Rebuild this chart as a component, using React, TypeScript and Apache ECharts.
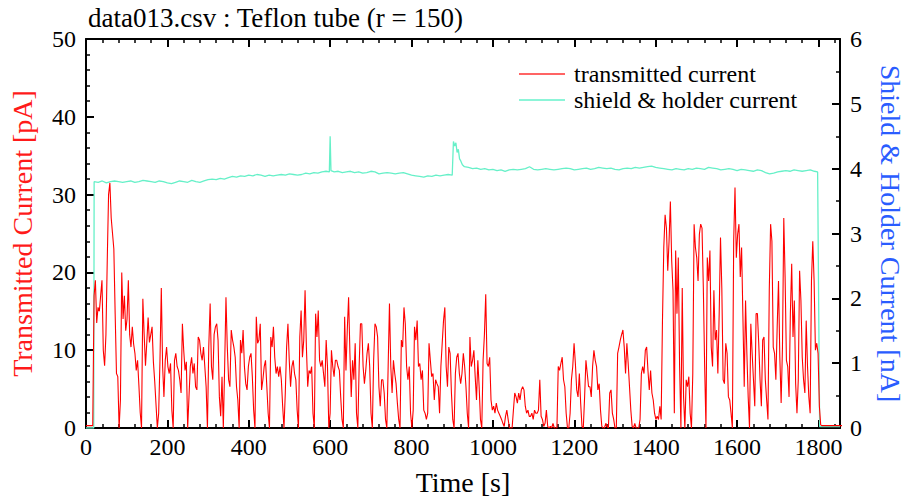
import React, { useEffect, useRef } from 'react';
import * as echarts from 'echarts';

const SERIF = '"Liberation Serif", "Times New Roman", serif';
const TITLE = 'data013.csv : Teflon tube (r = 150)';
const X_MAX = 1853;
const X_TICK_LABELS_EVERY = 200;
const LEGEND_NAMES = ['transmitted current', 'shield & holder current'];

// transmitted current [pA], sampled every DT seconds; each block starts at its own time
const DT = 3.24;
const redLead: [number, number][] = [[0, 0.3]];
const redSeg1Start = 0.38;
const redSeg1 = [
  0.3, 0.3, 0.3, 0.3, 0.3, 0.3,
  17, 19, 13.5, 15.5, 15, 17, 19, 10, 8, 12,
  21.5, 30, 31.5, 27, 25, 23, 14.7, 7, 6.6, 0,
  3.6, 20, 14, 17, 12.5, 14, 19, 12, 10.4, 13,
  10.8, 9.6, 7.4, 8.7, 5.5, 2, 0, 16.6, 12, 8,
  11, 14.2, 11, 12, 13, 8.5, 6, 3, 0, 1.9,
  8.7, 18, 7.9, 4, 8.7, 10.4, 7.9, 7, 8.3, 2.3,
  0, 8.7, 9.6, 7.9, 7.4, 6.2, 4.5, 13.4, 10, 7.4,
  8.5, 0, 4, 7.9, 9.1, 7, 8.3, 5.3, 4.9, 11.7,
  11.3, 9.6, 8.7, 10.4, 7.9, 5.3, 0, 10.4,
];
const redSeg2Start = 305.1;
const redSeg2 = [
  16, 7.9, 6.2, 12, 13, 13.4, 11.3, 4, 1.5, 6.6,
  0, 7.9, 16.8, 10.4, 6.2, 5.3, 12.6, 11.3, 10.4, 9.1,
  5.3, 3.6, 0, 11.3, 9.6, 12.6, 7.9, 5.7, 4.9, 7.9,
  9.1, 9.6, 6.6, 2.3, 0, 14.3, 10.9, 11.3, 13.4, 4.9,
  6.2, 7.9, 8.7, 5.3, 1.9, 0, 11.7, 10.4, 13, 9.1,
  7, 7.9, 6.6, 7.9, 6.2, 2.8, 0, 4.5, 10.4, 13.4,
  8.7, 5.3, 7.9, 8.7, 7, 6.2, 2.3, 0, 11.7, 15.1,
  9.1, 11.3, 17.7, 10.4, 5.3, 7.4, 7, 7.9, 1.9, 0,
  14.7, 11.7, 15.1, 8.7, 7.9, 8.7, 7, 5.3, 11.3, 7.9,
  0, 1.9, 10, 7.9, 6.6, 8.7,
];
const redSeg3Start = 616.2;
const redSeg3 = [
  8.7, 7.9, 7.4, 4, 1.1, 0, 14.3, 7.4, 12.6, 16.8,
  9.6, 4, 8.7, 6.2, 10.9, 1.9, 0, 7.9, 13.4, 13.4,
  7.9, 5.7, 7.4, 9.6, 10.9, 7.9, 1.9, 0, 8.7, 13.4,
  13, 11.7, 5.3, 2.8, 6.2, 6.2, 4.5, 1.1, 0, 7.9,
  16, 7.9, 4.5, 8.7, 7, 5.7, 3.2, 1.1, 0, 11.3,
  10.4, 15.5, 13.4, 7.9, 6.2, 7.9, 1.9, 0, 2.3, 13,
  11.3, 13.8, 7.9, 8.3, 6.2, 7.4, 2.3, 1.9, 1.1, 1.9,
  10.9, 8.7, 6.6, 7, 3.6, 6.2, 5.7, 5.3, 1.9, 7.9,
  10.9, 13.8, 15.5, 7.9, 5.3, 10.4, 9.6, 4.5, 1.1, 0,
  7, 9.1, 9.6, 7, 5.7, 7,
];
const redSeg4Start = 927.3;
const redSeg4 = [
  9.6, 7.9, 5.3, 1.9, 0, 11.7, 7.9, 8.7, 10, 6.6,
  3.6, 8.7, 5.3, 1.1, 0, 8.7, 12, 17.2, 8.3, 7.9,
  9.1, 3.6, 2.3, 2.8, 1.9, 3.2, 2.3, 1.9, 1.5, 1.1,
  0.6, 0.2, 1.5, 2.3, 1.1, 0, 0, 0, 2.3, 4.5,
  4, 3.2, 4.5, 3.6, 4.9, 5.3, 4.9, 2.8, 1.9, 2.3,
  1.5, 1.5, 1.9, 1.1, 2.3, 1.9, 1.9, 2.3, 6.2, 1.5,
  1.1, 0.2, 0.6, 2.3, 0.2, 0, 0.2, 0, 0.6, 0,
  0, 0, 7.9, 7.4, 8.3, 9.1, 6.2, 5.3, 1.9, 0,
  0, 1.9, 6.2, 7.9, 10.9, 8.3, 4.9, 4, 7, 3.2,
  0.2, 0, 4, 8.7, 7, 5.3,
];
const redSeg5Start = 1238.5;
const redSeg5 = [
  5.3, 4, 7.9, 10, 8.7, 7.9, 4.9, 5.7, 2.3, 0.2,
  0, 0, 0.6, 0.2, 0, 4.5, 4.9, 1.9, 1.1, 0,
  0, 9.6, 10.4, 11.3, 12, 12.6, 10.4, 7, 10.9, 8.3,
  5.3, 2.3, 0.2, 0, 0.6, 0, 0, 0, 1.1, 7,
  7.9, 7, 10, 10.4, 7.4, 4.9, 7.4, 4.5, 3.6, 1.9,
  1.1, 1.5, 1.1, 2.8, 1.1, 13.8, 23.2, 27.4, 25.7, 20.2,
  24, 29.1, 21.5, 17.7, 1.9, 22.8, 14.7, 21.9, 7.9, 0,
  18, 4, 0, 6.2, 5.3, 6.6, 1.9, 0, 7, 26.2,
  23.2, 21.9, 18.9, 24.9, 26.2, 25.7, 18, 7.9, 0, 21.9,
  18.9, 22.8, 10.4, 7.9, 17.7, 11.3,
];
const redSeg6Start = 1549.6;
const redSeg6 = [
  12.6, 7, 14.7, 24.5, 18, 6.2, 5.7, 10.9, 9.6, 4,
  3.6, 1.9, 0, 24, 30.9, 21.9, 24.9, 26.2, 19.4, 23.2,
  14.3, 5.3, 16.4, 9.6, 4, 0, 13.4, 9.6, 6.2, 2.8,
  14.7, 14.7, 10.9, 6.2, 2.8, 11.3, 11.7, 6.2, 3.6, 1.1,
  17.7, 26.2, 24, 10.4, 9.6, 6.2, 13, 18.9, 9.1, 3.2,
  10.4, 27, 19.4, 8.7, 7.9, 4, 14.7, 21.1, 11.7, 16.4,
  5.7, 1.9, 6.2, 20.2, 16.4, 9.1, 6.2, 4.5, 13.8, 7.9,
  4, 1.9, 18.9, 24, 18.9, 10, 10.9, 9.6, 2.8, 0.4,
  0.3, 0.3, 0.3, 0.3, 0.3, 0.3, 0.3, 0.3, 0.3, 0.3,
  0.3, 0.3, 0.3, 0.3, 0.3, 0.3, 0.3,
];

// shield & holder current [nA]: [time s, value]
const shield: [number, number][] = [
  [0, 0], [19, 0], [20, 3.8], [30, 3.79], [40, 3.81], [50, 3.78], [60, 3.8], [70, 3.81], [80, 3.8],
  [90, 3.79], [100, 3.8], [110, 3.81], [120, 3.79], [130, 3.8], [140, 3.82], [150, 3.81], [160, 3.8],
  [170, 3.79], [180, 3.81], [190, 3.8], [200, 3.78], [210, 3.77], [220, 3.79], [230, 3.81], [240, 3.8],
  [250, 3.79], [260, 3.82], [270, 3.8], [280, 3.79], [290, 3.81], [300, 3.83], [310, 3.84], [320, 3.83],
  [330, 3.85], [340, 3.84], [350, 3.86], [360, 3.88], [370, 3.87], [380, 3.89], [390, 3.88], [400, 3.9],
  [410, 3.89], [420, 3.91], [430, 3.9], [440, 3.88], [450, 3.9], [460, 3.89], [470, 3.9], [480, 3.91],
  [490, 3.9], [500, 3.92], [510, 3.91], [520, 3.9], [530, 3.91], [540, 3.93], [550, 3.92], [560, 3.94],
  [570, 3.93], [580, 3.95], [590, 3.96], [598, 3.95], [600, 4.5], [602, 3.97], [610, 3.95], [620, 3.96],
  [630, 3.94], [640, 3.95], [650, 3.96], [660, 3.94], [670, 3.95], [680, 3.93], [690, 3.94], [700, 3.96],
  [710, 3.95], [720, 3.92], [730, 3.93], [740, 3.94], [750, 3.93], [760, 3.92], [770, 3.93], [780, 3.94],
  [790, 3.92], [800, 3.9], [810, 3.89], [820, 3.88], [830, 3.87], [840, 3.89], [850, 3.88], [860, 3.9],
  [870, 3.89], [880, 3.9], [890, 3.91], [900, 3.9], [903, 4.42], [906, 4.35], [909, 4.4], [912, 4.25],
  [915, 4.3], [918, 4.15], [921, 4.12], [925, 4.06], [930, 4.03], [940, 4.02], [950, 4.0], [960, 4.01],
  [970, 3.99], [980, 4.0], [990, 3.98], [1000, 3.99], [1010, 3.97], [1020, 3.98], [1030, 3.96], [1040, 3.98],
  [1050, 3.99], [1060, 3.98], [1070, 3.99], [1080, 4.0], [1090, 4.03], [1100, 3.99], [1110, 3.98], [1120, 3.99],
  [1130, 4.0], [1140, 3.99], [1150, 3.98], [1160, 3.99], [1170, 4.0], [1180, 4.01], [1190, 4.0], [1200, 3.98],
  [1210, 3.99], [1220, 4.0], [1230, 4.01], [1240, 3.99], [1250, 4.0], [1260, 4.02], [1270, 4.01], [1280, 4.0],
  [1290, 4.01], [1300, 3.99], [1310, 3.98], [1320, 4.0], [1330, 4.01], [1340, 4.0], [1350, 4.02], [1360, 4.01],
  [1370, 4.02], [1380, 4.03], [1390, 4.04], [1400, 4.02], [1410, 4.01], [1420, 4.0], [1430, 3.99], [1440, 3.98],
  [1450, 4.0], [1460, 3.99], [1470, 3.98], [1480, 4.0], [1490, 3.99], [1500, 4.01], [1510, 4.0], [1520, 3.99],
  [1530, 4.02], [1540, 4.01], [1550, 4.0], [1560, 3.98], [1570, 3.99], [1580, 4.0], [1590, 3.99], [1600, 3.97],
  [1610, 3.99], [1620, 3.98], [1630, 3.97], [1640, 3.96], [1650, 3.98], [1660, 3.97], [1670, 3.94], [1680, 3.92],
  [1690, 3.93], [1700, 3.95], [1710, 3.96], [1720, 3.97], [1730, 3.96], [1740, 3.98], [1750, 3.97], [1760, 3.96],
  [1770, 3.97], [1780, 3.98], [1790, 3.96], [1798, 3.95], [1803, 0.02], [1853, 0.02],
];

const redBlocks: [number, number[]][] = [
  [redSeg1Start, redSeg1], [redSeg2Start, redSeg2], [redSeg3Start, redSeg3],
  [redSeg4Start, redSeg4], [redSeg5Start, redSeg5], [redSeg6Start, redSeg6],
];

export default function App() {
  const ref = useRef<HTMLDivElement>(null);
  useEffect(() => {
    document.body.style.margin = '0';
    if (!ref.current) return;
    const chart = echarts.init(ref.current, null, { renderer: 'svg' });
    const transmitted: [number, number][] = [...redLead];
    redBlocks.forEach(([start, vals]) => {
      vals.forEach((v, i) => transmitted.push([+(start + i * DT).toFixed(2), v]));
    });
    const axisLine = { onZero: false, lineStyle: { color: '#000', width: 2 } };
    const tick = { inside: true, length: 8, lineStyle: { color: '#000', width: 2 } };
    const minor = (n: number) => ({ show: true, splitNumber: n, length: 4, lineStyle: { color: '#000', width: 1.5 } });
    const lbl = { fontFamily: SERIF, fontSize: 24, color: '#000' };
    const fmt = (v: number) => String(v);
    chart.setOption({
      animation: false,
      backgroundColor: '#fff',
      title: {
        text: TITLE, left: 88, top: 4, padding: 0,
        textStyle: { fontFamily: SERIF, fontSize: 27, fontWeight: 'normal', color: '#000' },
      },
      legend: {
        orient: 'vertical', left: 519, top: 62, padding: 0, itemWidth: 46, itemHeight: 2, itemGap: 2, icon: 'rect',
        textStyle: { fontFamily: SERIF, fontSize: 24, color: '#000', padding: [0, 0, 0, 4] },
        data: [
          { name: LEGEND_NAMES[0], itemStyle: { color: '#ff6464' } },
          { name: LEGEND_NAMES[1], itemStyle: { color: '#8cf5d8' } },
        ],
      },
      grid: { left: 86, right: 63, top: 39, bottom: 73 },
      xAxis: [
        {
          type: 'value', position: 'bottom', min: 0, max: X_MAX, interval: X_TICK_LABELS_EVERY,
          name: 'Time [s]', nameLocation: 'middle', nameGap: 40,
          nameTextStyle: { fontFamily: SERIF, fontSize: 28, color: '#000' },
          axisLine, axisTick: tick, minorTick: minor(5),
          axisLabel: { ...lbl, margin: 7, formatter: fmt, showMaxLabel: false },
          splitLine: { show: false },
        },
        {
          type: 'value', position: 'top', min: 0, max: X_MAX, interval: X_TICK_LABELS_EVERY,
          axisLine, axisTick: tick, minorTick: minor(5),
          axisLabel: { show: false }, splitLine: { show: false },
        },
      ],
      yAxis: [
        {
          type: 'value', position: 'left', min: 0, max: 50, interval: 10,
          name: 'Transmitted Current [pA]', nameLocation: 'middle', nameGap: 50, nameRotate: 90,
          nameTextStyle: { fontFamily: SERIF, fontSize: 28, color: '#ff1a1a' },
          axisLine, axisTick: tick, minorTick: minor(5),
          axisLabel: { ...lbl, margin: 10, formatter: fmt }, splitLine: { show: false },
        },
        {
          type: 'value', position: 'right', min: 0, max: 6, interval: 1,
          name: 'Shield & Holder Current [nA]', nameLocation: 'middle', nameGap: 36, nameRotate: -90,
          nameTextStyle: { fontFamily: SERIF, fontSize: 28, color: '#2a5cff' },
          axisLine, axisTick: tick, minorTick: minor(2),
          axisLabel: { ...lbl, margin: 10, formatter: fmt }, splitLine: { show: false },
        },
      ],
      series: [
        {
          name: LEGEND_NAMES[1], type: 'line', xAxisIndex: 0, yAxisIndex: 1, data: shield,
          symbol: 'none', lineStyle: { color: '#66f0c8', width: 1.3 }, itemStyle: { color: '#66f0c8' },
        },
        {
          name: LEGEND_NAMES[0], type: 'line', xAxisIndex: 0, yAxisIndex: 0, data: transmitted,
          symbol: 'none', lineStyle: { color: '#ff0000', width: 1.1 }, itemStyle: { color: '#ff0000' },
        },
      ],
    });
    return () => chart.dispose();
  }, []);
  return <div ref={ref} style={{ width: 912, height: 501 }} />;
}
